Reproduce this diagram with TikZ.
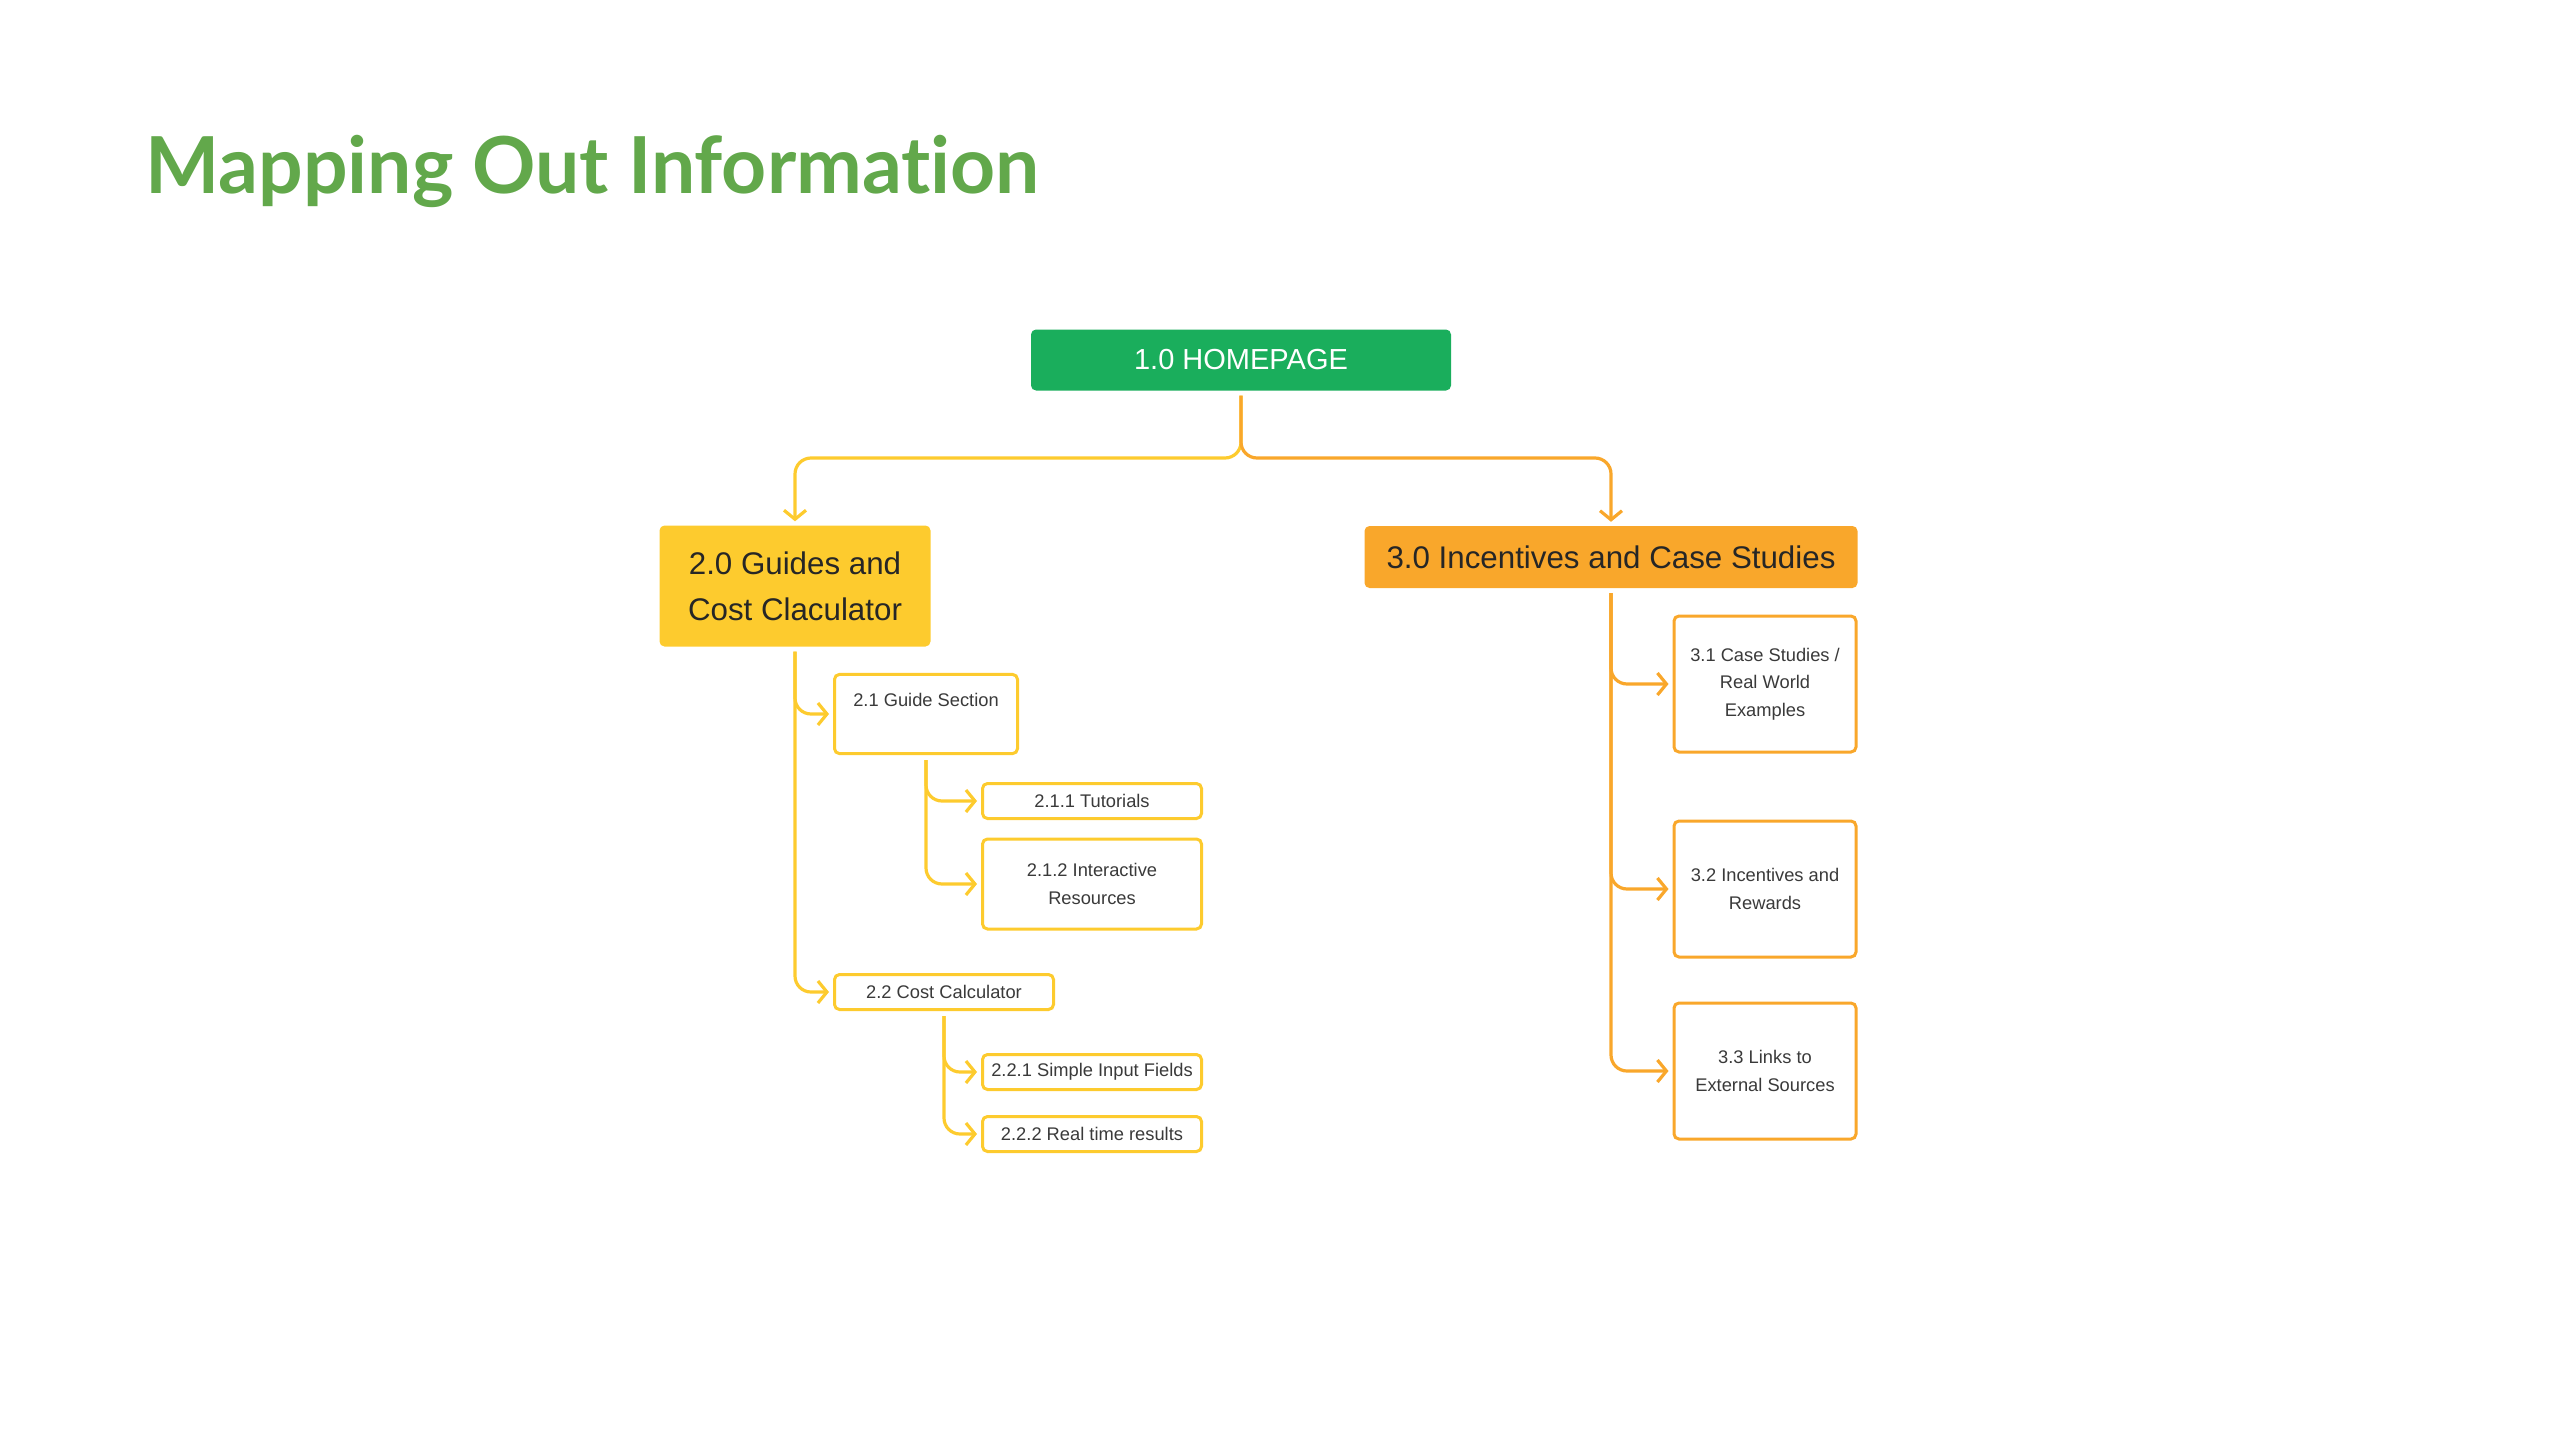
\documentclass[tikz,border=0pt]{standalone}
\usepackage{fontspec}
\setmainfont{Liberation Sans}
\newfontfamily\titlefont{Lato}[Ligatures=NoCommon]
\usetikzlibrary{arrows.meta}
\definecolor{titlegreen}{RGB}{98,168,75}
\definecolor{homegreen}{RGB}{26,174,92}
\definecolor{gold}{RGB}{253,203,46}
\definecolor{amber}{RGB}{249,167,43}
\definecolor{ink}{RGB}{38,38,38}
\definecolor{inkl}{RGB}{58,58,58}
\tikzset{
  topbox/.style={rectangle,rounded corners=5pt,inner sep=0,text=ink,
    font=\fontsize{31.3}{46}\selectfont,align=center},
  leaf/.style={rectangle,rounded corners=5pt,draw,line width=3pt,fill=white,
    inner sep=0,text=inkl,font=\fontsize{18.3}{27.7}\selectfont,align=center},
  link/.style={line width=3.2pt,rounded corners=16pt,
    -{Straight Barb[length=9pt,width=22pt]},shorten <=5pt,shorten >=4pt}
}

\begin{document}
\begin{tikzpicture}[x=1pt,y=-1pt]
\useasboundingbox (0,0) rectangle (2560,1440);

\node[anchor=base west,inner sep=0,text=titlegreen,
  font=\titlefont\bfseries\fontsize{78.6}{90}\selectfont] (title) at (145,193) {Mapping Out Information};

% top level
\node[topbox,fill=homegreen,text=white,minimum width=420pt,minimum height=61pt,
  font=\fontsize{29}{35}\selectfont] (home) at (1241,360) {1.0 HOMEPAGE};
\node[topbox,fill=gold,minimum width=271pt,minimum height=121pt] (g20) at (795,586) {2.0 Guides and\\Cost Claculator};
\node[topbox,fill=amber,minimum width=493pt,minimum height=62pt] (g30) at (1611,557) {3.0 Incentives and Case Studies};

\coordinate (fork) at (1241,458);
\draw[link,gold] (home.south) -- (fork) -| (g20.north);
\draw[link,amber] (home.south) -- (fork) -| (g30.north);

% guides branch
\node[leaf,draw=gold,minimum width=183pt,inner ysep=19pt,text depth=28pt] (g21) at (926,714) {2.1 Guide Section};
\node[leaf,draw=gold,minimum width=219pt,minimum height=35pt] (g211) at (1092,801) {2.1.1 Tutorials};
\node[leaf,draw=gold,minimum width=219pt,minimum height=90pt] (g212) at (1092,884) {2.1.2 Interactive\\Resources};
\node[leaf,draw=gold,minimum width=219pt,minimum height=35pt] (g22) at (944,992) {2.2 Cost Calculator};
\node[leaf,draw=gold,minimum width=219pt,minimum height=35pt] (g221) at (1092,1072) {2.2.1 Simple Input Fields};
\node[leaf,draw=gold,minimum width=219pt,minimum height=35pt] (g222) at (1092,1134) {2.2.2 Real time results};

\draw[link,gold] (g20.south) |- (g21.west);
\draw[link,gold] (g20.south) |- (g22.west);
\draw[link,gold] (g21.south) |- (g211.west);
\draw[link,gold] (g21.south) |- (g212.west);
\draw[link,gold] (g22.south) |- (g221.west);
\draw[link,gold] (g22.south) |- (g222.west);

% incentives branch
\node[leaf,draw=amber,minimum width=182pt,minimum height=136pt] (g31) at (1765,684) {3.1 Case Studies /\\Real World\\Examples};
\node[leaf,draw=amber,minimum width=182pt,minimum height=136pt] (g32) at (1765,889) {3.2 Incentives and\\Rewards};
\node[leaf,draw=amber,minimum width=182pt,minimum height=136pt] (g33) at (1765,1071) {3.3 Links to\\External Sources};

\draw[link,amber] (g30.south) |- (g31.west);
\draw[link,amber] (g30.south) |- (g32.west);
\draw[link,amber] (g30.south) |- (g33.west);

\end{tikzpicture}
\end{document}
